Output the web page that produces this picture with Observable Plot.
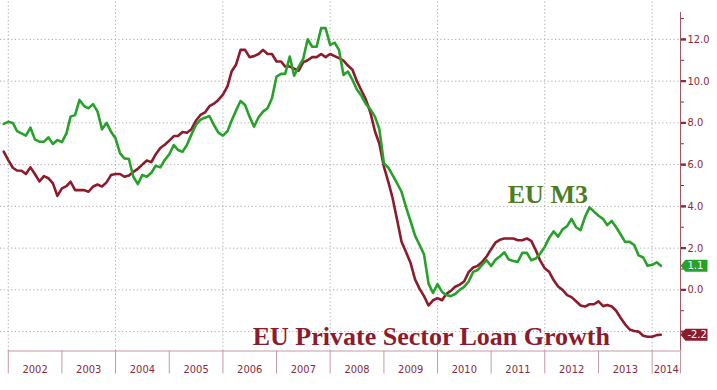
<!DOCTYPE html>
<html>
<head>
<meta charset="utf-8">
<script src="https://cdn.jsdelivr.net/npm/d3@7"></script>
<script src="https://cdn.jsdelivr.net/npm/@observablehq/plot@0.6"></script>
<style>
  html, body { margin: 0; padding: 0; background: #fff; }
  #chart svg { display: block; }
</style>
</head>
<body>
<div id="chart"></div>
<script>
// Monthly values, first month = December 2001
const startYear = 2001, startMonth = 11;

const euM3 = [
  7.95, 8.05, 8.0, 7.61, 7.5, 7.39, 7.77, 7.21, 7.1, 7.1,
  7.31, 6.99, 7.18, 7.08, 7.5, 8.3, 8.38, 9.1, 8.81, 8.7,
  8.9, 8.54, 7.69, 8.0, 7.58, 7.26, 6.54, 6.3, 6.27, 5.42,
  5.07, 5.5, 5.42, 5.61, 5.95, 5.87, 6.22, 6.5, 6.94, 6.7,
  6.62, 6.94, 7.45, 7.9, 8.15, 8.25, 8.33, 7.9, 7.53, 7.39,
  7.6, 8.1, 8.6, 9.05, 8.86, 8.3, 7.82, 8.27, 8.54, 8.7,
  9.18, 10.22, 10.35, 10.35, 11.18, 10.26, 10.7, 11.05, 12.01, 11.65,
  11.65, 12.54, 12.54, 11.74, 11.85, 11.5, 10.3, 10.46, 10.06, 9.6,
  9.3, 8.9, 8.65, 8.3, 7.7, 6.06, 5.85, 5.5, 5.1, 4.7,
  3.95, 3.3, 2.6, 2.15, 1.7, 0.3, -0.15, 0.27, -0.1, -0.25,
  -0.3, -0.2, 0.0, 0.14, 0.4, 0.86, 0.95, 1.2, 1.42, 1.14,
  1.45, 1.6, 1.8, 1.45, 1.38, 1.34, 1.77, 1.77, 1.42, 1.5,
  1.74, 2.06, 2.5, 2.8, 2.55, 2.9, 3.05, 3.4, 3.0, 2.86,
  3.5, 3.95, 3.75, 3.55, 3.4, 3.1, 3.3, 3.0, 2.65, 2.3,
  2.3, 2.15, 1.65, 1.55, 1.15, 1.2, 1.32, 1.15
];

const euLoans = [
  6.62, 6.22, 5.85, 5.72, 5.71, 5.55, 5.87, 5.55, 5.2, 5.45,
  5.35, 5.1, 4.5, 4.86, 4.97, 5.18, 4.78, 4.78, 4.78, 4.7,
  4.95, 5.05, 4.95, 5.15, 5.5, 5.55, 5.55, 5.42, 5.48, 5.65,
  5.8, 6.0, 6.2, 6.12, 6.5, 6.8, 6.95, 7.15, 7.37, 7.37,
  7.56, 7.53, 7.7, 8.1, 8.38, 8.5, 8.8, 8.92, 9.1, 9.35,
  9.75, 10.46, 10.8, 11.5, 11.5, 11.15, 11.2, 11.3, 11.5, 11.3,
  11.3, 10.94, 10.94, 10.7, 10.7, 10.6, 10.5, 10.9, 11.0, 11.15,
  11.15, 11.3, 11.15, 11.3, 11.2, 11.1, 10.98, 10.75, 10.55, 10.0,
  9.55, 9.1, 8.5, 7.6, 7.0, 5.9, 5.15, 4.4, 3.35, 2.3,
  1.8, 1.3, 0.5, 0.05, -0.3, -0.75, -0.5, -0.4, -0.5, -0.2,
  -0.05, 0.15, 0.25, 0.4, 0.85, 1.07, 1.15, 1.34, 1.6, 1.95,
  2.28, 2.4, 2.46, 2.46, 2.46, 2.38, 2.38, 2.46, 2.35, 1.9,
  1.4, 1.03, 0.85, 0.47, 0.16, 0.0, -0.25, -0.35, -0.55, -0.75,
  -0.8, -0.69, -0.69, -0.55, -0.78, -0.73, -0.8, -1.0, -1.35, -1.65,
  -1.9, -1.97, -2.0, -2.2, -2.25, -2.25, -2.17, -2.15
];

const years = [2002, 2003, 2004, 2005, 2006, 2007, 2008, 2009, 2010, 2011, 2012, 2013, 2014];
const yTicks = [-2, 0, 2, 4, 6, 8, 10, 12];
const yTickLabels = [0, 2, 4, 6, 8, 10, 12]; // "-2.0" is hidden under the end label in the reference
const yMinorTicks = [-1, 1, 3, 5, 7, 9, 11, 13];
const lastLabels = ["1.1", "-2.2"];
const seriesNames = ["EU M3", "EU Private Sector Loan Growth"];

// ---- build tables ----
const monthDate = i => new Date(Date.UTC(startYear, startMonth + i, 1));
const m3Data = euM3.map((v, i) => ({date: monthDate(i), value: v}));
const loanData = euLoans.map((v, i) => ({date: monthDate(i), value: v}));

const xStart = new Date(Date.UTC(2001, 10, 9));
const xEnd = new Date(Date.UTC(2014, 6, 13));
const yDomain = [-2.93, 13.29];

const yearStarts = years.map(y => new Date(Date.UTC(y, 0, 1)));
const sepTicks = [...yearStarts, xEnd];
const gridX = yearStarts.filter((d, i) => i % 2 === 0);
const labelTicks = yearStarts.map((d, i) => {
  const next = i + 1 < yearStarts.length ? yearStarts[i + 1] : xEnd;
  return new Date((+d + +next) / 2);
});
const yearOf = d => years[yearStarts.findIndex((s, i) => d >= s && (i + 1 === yearStarts.length || d < yearStarts[i + 1]))];

const GREEN = "#27a12a";
const MAROON = "#8c1b2c";
const AXIS = "#8a2a3b";
const LINECOL = "#c39aa3";

const endData = [
  {date: xEnd, value: euM3[euM3.length - 1], label: lastLabels[0], color: GREEN},
  {date: xEnd, value: euLoans[euLoans.length - 1], label: lastLabels[1], color: MAROON}
];

// tag-shaped symbol with a pointed left side
const tag = {
  draw(ctx) {
    ctx.moveTo(0, 0);
    ctx.lineTo(5, -6);
    ctx.lineTo(27, -6);
    ctx.lineTo(27, 6);
    ctx.lineTo(5, 6);
    ctx.closePath();
  }
};

const narrow = "'Liberation Sans Narrow', 'Arial Narrow', 'DejaVu Sans Condensed', sans-serif";
const serif = "'Liberation Serif', 'DejaVu Serif', serif";

const chart = Plot.plot({
  width: 717,
  height: 390,
  marginLeft: 0,
  marginRight: 37,
  marginTop: 12,
  marginBottom: 39.5,
  style: {background: "#fff", fontFamily: narrow, overflow: "visible"},
  x: {type: "utc", domain: [xStart, xEnd], axis: null},
  y: {domain: yDomain, axis: null},
  marks: [
    // dotted grid
    Plot.ruleY(yTicks, {stroke: "#a9a9a9", strokeWidth: 1, strokeDasharray: "1.2,2.5"}),
    Plot.ruleX(gridX, {y1: yDomain[0], y2: 13.87, stroke: "#a9a9a9", strokeWidth: 1, strokeDasharray: "1.2,2.5"}),
    // series
    Plot.line(loanData, {x: "date", y: "value", stroke: MAROON, strokeWidth: 2.6, curve: "linear"}),
    Plot.line(m3Data, {x: "date", y: "value", stroke: GREEN, strokeWidth: 2.6, curve: "linear"}),
    // frame lines
    Plot.ruleY([yDomain[0]], {x1: yearStarts[0], x2: xEnd, stroke: LINECOL, strokeWidth: 1}),
    Plot.ruleX([xEnd], {stroke: AXIS, strokeWidth: 1, strokeOpacity: 0.8}),
    // year separators and labels
    Plot.axisX({ticks: sepTicks, anchor: "bottom", tickSize: 23, tickFormat: () => "", stroke: LINECOL, label: null}),
    Plot.axisX({ticks: labelTicks, anchor: "bottom", tickSize: 0, tickPadding: 14.5, fontSize: 11,
      tickFormat: d => String(yearOf(d)), color: AXIS, label: null}),
    // right axis
    Plot.axisY({ticks: yMinorTicks, anchor: "right", tickSize: 3, tickFormat: () => "", color: AXIS, label: null}),
    Plot.axisY({ticks: yTicks, anchor: "right", tickSize: 5, strokeWidth: 2, tickFormat: () => "", color: AXIS, label: null}),
    Plot.axisY({ticks: yTickLabels, anchor: "right", tickSize: 5, tickPadding: 2, strokeWidth: 2, fontSize: 11,
      tickFormat: d => d.toFixed(1), color: AXIS, label: null}),
    // end labels
    Plot.dot(endData, {x: "date", y: "value", symbol: tag, fill: "color", stroke: null, r: 6}),
    Plot.text(endData, {x: "date", y: "value", text: "label", dx: 7, textAnchor: "start", fill: "#fff", fontSize: 11}),
    // series annotations
    Plot.text([seriesNames[0]], {x: new Date(Date.UTC(2012, 0, 22)), y: 4.16, text: d => d, fontFamily: serif,
      fontWeight: "bold", fontSize: 26, fill: "#4c7c24", textAnchor: "middle", lineAnchor: "bottom"}),
    Plot.text([seriesNames[1]], {x: new Date(Date.UTC(2009, 10, 20)), y: -2.64, text: d => d, fontFamily: serif,
      fontWeight: "bold", fontSize: 26, fill: MAROON, textAnchor: "middle", lineAnchor: "bottom"})
  ]
});

document.getElementById("chart").appendChild(chart);
</script>
</body>
</html>
